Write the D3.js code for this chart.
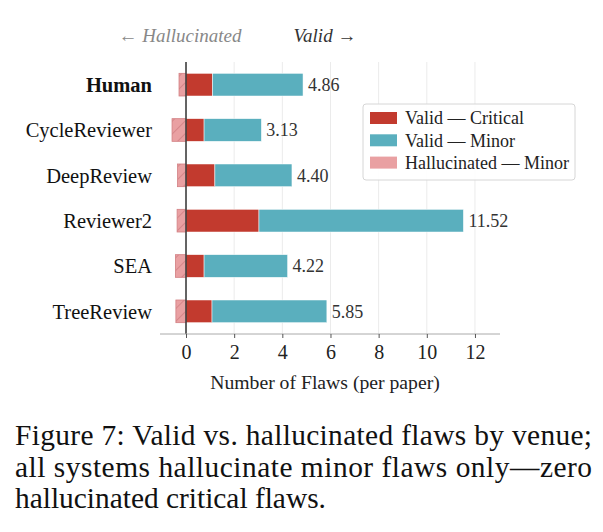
<!DOCTYPE html>
<html>
<head>
  <meta charset="utf-8">
  <script src="https://d3js.org/d3.v7.min.js"></script>
</head>
<body style="margin:0; background:#fff">
  <svg id="chart"></svg>
<script>
  var w = 603;
  var h = 532;
  var serif = "'Liberation Serif', 'Times New Roman', Times, serif";

  // data
  var systems = ["Human", "CycleReviewer", "DeepReview", "Reviewer2", "SEA", "TreeReview"];
  var validCritical = [1.10, 0.75, 1.20, 3.03, 0.75, 1.08];
  var validMinor = [3.76, 2.38, 3.20, 8.49, 3.47, 4.77];
  var hallucMinor = [0.29, 0.58, 0.35, 0.37, 0.44, 0.42];
  var totalLabels = ["4.86", "3.13", "4.40", "11.52", "4.22", "5.85"];
  var xTicks = [0, 2, 4, 6, 8, 10, 12];
  var legendLabels = ["Valid \u2014 Critical", "Valid \u2014 Minor", "Hallucinated \u2014 Minor"];

  var colCrit = "#c23a2e";
  var colMinor = "#5aafbe";
  var colHall = "#e9a0a2";

  var plot = {left: 160, right: 500, top: 62, bottom: 334};

  var svg = d3.select("#chart").attr("width", w).attr("height", h);

  var pat = svg.append("defs").append("pattern")
      .attr("id", "hatch")
      .attr("patternUnits", "userSpaceOnUse")
      .attr("width", 9).attr("height", 9)
      .attr("patternTransform", "rotate(45)");
  pat.append("rect").attr("width", 9).attr("height", 9).attr("fill", colHall);
  pat.append("line").attr("x1", 0).attr("y1", 0).attr("x2", 0).attr("y2", 9)
      .attr("stroke", "#c97579").attr("stroke-width", 1.2);

  var x = d3.scaleLinear().domain([-1.08, 13.04]).range([plot.left, plot.right]);
  var y = d3.scaleBand().domain(systems).range([plot.top, plot.bottom])
      .paddingInner(0.5).paddingOuter(0.25);

  // grid
  svg.append("g").selectAll("line")
    .data(xTicks).enter().append("line")
      .attr("x1", function(d){ return x(d); })
      .attr("x2", function(d){ return x(d); })
      .attr("y1", plot.top).attr("y2", plot.bottom)
      .attr("stroke", "#ebebeb").attr("stroke-width", 1);

  var rows = systems.map(function(s, i){
    return {name: s, crit: validCritical[i], minor: validMinor[i], hall: hallucMinor[i], label: totalLabels[i]};
  });

  var bars = svg.append("g");
  // hallucinated, drawn on the negative side
  bars.selectAll("rect.hall")
    .data(rows).enter().append("rect")
      .attr("class", "hall")
      .attr("x", function(d){ return x(-d.hall); })
      .attr("width", function(d){ return x(0) - x(-d.hall); })
      .attr("y", function(d){ return y(d.name); })
      .attr("height", y.bandwidth())
      .attr("fill", "url(#hatch)")
      .attr("stroke", "#d27f82").attr("stroke-width", 0.8);
  bars.selectAll("rect.crit")
    .data(rows).enter().append("rect")
      .attr("class", "crit")
      .attr("x", x(0))
      .attr("width", function(d){ return x(d.crit) - x(0); })
      .attr("y", function(d){ return y(d.name); })
      .attr("height", y.bandwidth())
      .attr("fill", colCrit)
      .attr("stroke", "#fff").attr("stroke-width", 0.5);
  bars.selectAll("rect.minor")
    .data(rows).enter().append("rect")
      .attr("class", "minor")
      .attr("x", function(d){ return x(d.crit); })
      .attr("width", function(d){ return x(d.crit + d.minor) - x(d.crit); })
      .attr("y", function(d){ return y(d.name); })
      .attr("height", y.bandwidth())
      .attr("fill", colMinor)
      .attr("stroke", "#fff").attr("stroke-width", 0.5);

  // totals
  bars.selectAll("text.total")
    .data(rows).enter().append("text")
      .attr("x", function(d){ return x(d.crit + d.minor) + 5; })
      .attr("y", function(d){ return y(d.name) + y.bandwidth() / 2; })
      .attr("dy", "0.35em")
      .style("font-family", serif).style("font-size", "18px")
      .attr("fill", "#333")
      .text(function(d){ return d.label; });

  // zero line
  svg.append("line")
      .attr("x1", x(0)).attr("x2", x(0))
      .attr("y1", plot.top).attr("y2", plot.bottom)
      .attr("stroke", "#333").attr("stroke-width", 1.5);

  // x axis
  var xAxis = svg.append("g")
      .attr("transform", "translate(0," + plot.bottom + ")")
      .call(d3.axisBottom(x).tickValues(xTicks).tickSize(4).tickPadding(7).tickFormat(d3.format("d")));
  xAxis.attr("font-family", serif).attr("font-size", 20);
  xAxis.select(".domain").attr("stroke", "#aaa").attr("d", "M" + plot.left + ",0H" + plot.right);
  xAxis.selectAll(".tick line").attr("stroke", "#555");
  xAxis.selectAll(".tick text")
      .style("font-family", serif).style("font-size", "20px").attr("fill", "#222");

  svg.append("text")
      .attr("x", 325).attr("y", 389)
      .attr("text-anchor", "middle")
      .style("font-family", serif).style("font-size", "19.7px").attr("fill", "#222")
      .text("Number of Flaws (per paper)");

  // y labels
  svg.append("g").selectAll("text")
    .data(systems).enter().append("text")
      .attr("x", 152)
      .attr("y", function(d){ return y(d) + y.bandwidth() / 2; })
      .attr("dy", "0.35em")
      .attr("text-anchor", "end")
      .style("font-family", serif).style("font-size", "20.5px")
      .style("font-weight", function(d){ return d === "Human" ? "bold" : "normal"; })
      .attr("fill", "#111")
      .text(function(d){ return d; });

  // direction hints
  svg.append("text")
      .attr("x", 180).attr("y", 42).attr("text-anchor", "middle")
      .style("font-family", serif).style("font-size", "19px").style("font-style", "italic")
      .attr("fill", "#888")
      .text("\u2190 Hallucinated");
  svg.append("text")
      .attr("x", 325).attr("y", 42).attr("text-anchor", "middle")
      .style("font-family", serif).style("font-size", "19px").style("font-style", "italic")
      .attr("fill", "#333")
      .text("Valid \u2192");

  // legend
  var lg = svg.append("g").attr("transform", "translate(363,104)");
  lg.append("rect").attr("width", 212).attr("height", 76).attr("rx", 3)
      .attr("fill", "#fff").attr("fill-opacity", 0.9)
      .attr("stroke", "#d6d6d6");
  var legendColors = [colCrit, colMinor, colHall];
  legendLabels.forEach(function(l, i){
    var gy = 14 + i * 22.3;
    lg.append("rect").attr("x", 7).attr("y", gy - 6).attr("width", 27).attr("height", 12)
        .attr("fill", legendColors[i]);
    lg.append("text").attr("x", 42).attr("y", gy).attr("dy", "0.35em")
        .style("font-family", serif).style("font-size", "18px")
        .attr("fill", "#222").text(l);
  });

  // caption (first two lines justified)
  var capLines = [
    {t: "Figure 7: Valid vs. hallucinated flaws by venue;", just: true},
    {t: "all systems hallucinate minor flaws only\u2014zero", just: true},
    {t: "hallucinated critical flaws.", just: false}
  ];
  capLines.forEach(function(c, i){
    var t = svg.append("text")
        .attr("x", 15).attr("y", 445 + i * 31.5)
        .style("font-family", serif).style("font-size", "29.4px")
        .attr("fill", "#111")
        .text(c.t);
    if (c.just) t.attr("textLength", 577).attr("lengthAdjust", "spacing");
  });
</script>
</body>
</html>
